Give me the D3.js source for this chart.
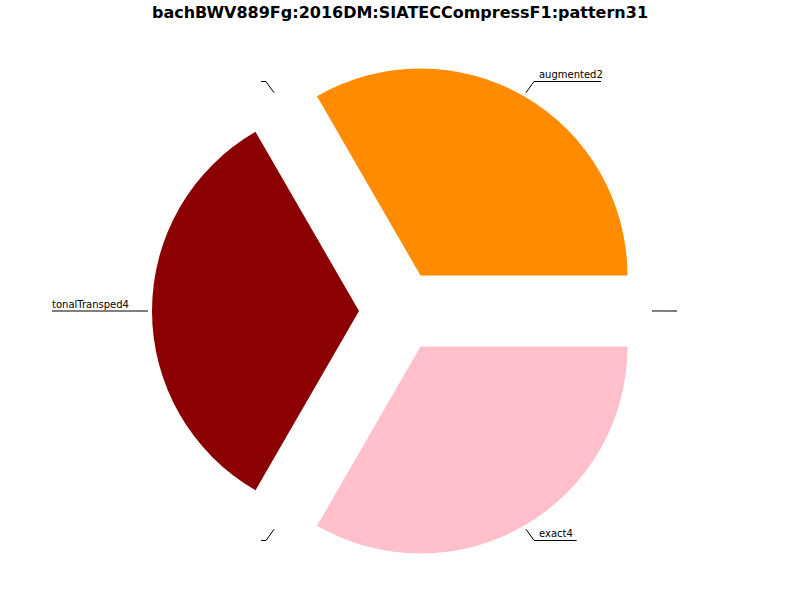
<!DOCTYPE html>
<html><head><meta charset="utf-8">
<script src="https://cdn.jsdelivr.net/npm/d3@7"></script>
<style>body{margin:0;background:#fff}text{font-family:"DejaVu Sans",sans-serif}</style>
</head><body>
<svg id="chart" width="800" height="600"></svg>
<script>
// slices, counter-clockwise from 3 o'clock
var labels = ["", "augmented2", "", "tonalTransped4", "", "exact4"];
var values = [0.0001, 1, 0.0001, 1, 0.0001, 1];
var colors = ["#ffffff", "#ff8c00", "#ffffff", "#8b0000", "#ffffff", "#ffc0cb"];

var svg = d3.select("#chart"),
    cx = 400, cy = 311, r = 207, explode = 41;

svg.append("text").attr("x", 400).attr("y", 18).attr("text-anchor", "middle")
  .style("font-weight", "bold").style("font-size", "16px")
  .text("bachBWV889Fg:2016DM:SIATECCompress F1:pattern31".replace(" ", ""));

// d3 pie angles clockwise from 12 o'clock; convert from matplotlib style
var pie = d3.pie().sort(null).startAngle(Math.PI / 2).endAngle(Math.PI / 2 - 2 * Math.PI).padAngle(0);
var arcs = pie(values);
var arc = d3.arc().innerRadius(0).outerRadius(r);

arcs.forEach(function(a, i) {
  var mid = (a.startAngle + a.endAngle) / 2; // d3 angle
  var dx = Math.sin(mid), dy = -Math.cos(mid);
  if (values[i] > 0.01) {
    svg.append("path").attr("d", arc(a)).attr("fill", colors[i])
      .attr("transform", "translate(" + (cx + dx * explode) + "," + (cy + dy * explode) + ")");
  }
  // leader line
  var p1 = [cx + dx * 252, cy + dy * 252],
      p2 = [cx + dx * 268, cy + dy * 265];
  if (Math.abs(dy) < 0.01) p2 = [cx + dx * 272, cy];
  var right = dx > 0.01;
  var w = labels[i] ? labels[i].length * 6.1 + 6 : 5;
  var p3 = [p2[0] + (right ? w : -w), p2[1]];
  if (Math.abs(dy) < 0.01 && !right) p3 = [52, cy];
  svg.append("polyline").attr("points", [p1, p2, p3].map(function(p){return p.join(",");}).join(" "))
    .attr("fill", "none").attr("stroke", "#000").attr("stroke-width", 1);
  if (labels[i]) {
    svg.append("text").attr("x", Math.min(p2[0], p3[0]) + (right ? 5 : 0)).attr("y", p2[1] - 3)
      .style("font-size", "10px").text(labels[i]);
  }
});
</script>
</body></html>
